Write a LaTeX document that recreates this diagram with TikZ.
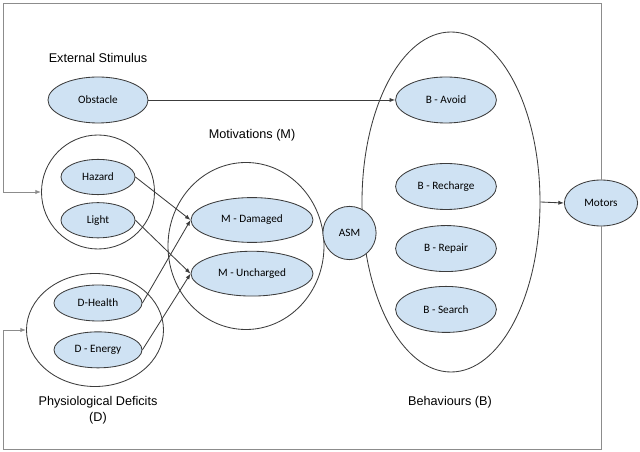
\documentclass[tikz,border=0pt]{standalone}
\usepackage{fontspec}
\setmainfont{Liberation Sans}
\newfontfamily\boxfont{Carlito}
\usetikzlibrary{arrows.meta}
\usetikzlibrary{shapes.geometric}
\usetikzlibrary{positioning}
\definecolor{boxblue}{RGB}{207,226,243}
\definecolor{edgegray}{RGB}{60,60,60}
\definecolor{loopgray}{RGB}{140,140,140}

\begin{document}
\begin{tikzpicture}[x=0.025cm,y=-0.025cm,semithick,>={Latex[length=4pt,width=3pt]}]
	\tikzstyle{unit}=[draw=edgegray, fill=boxblue, ellipse, inner sep=0pt, font=\boxfont\fontsize{8}{9.6}\selectfont]
	\tikzstyle{group}=[draw=edgegray, ellipse, inner sep=0pt]
	\tikzstyle{title}=[align=center, font=\fontsize{9}{11}\selectfont]
	\useasboundingbox (0,0) rectangle (640,452);

	% groups
	\node[group, minimum width=113*0.025cm, minimum height=114*0.025cm] (Sgrp) at (98,192) {};
	\node[group, minimum width=137*0.025cm, minimum height=113*0.025cm] (Dgrp) at (95,330) {};
	\node[group, minimum width=156*0.025cm, minimum height=167*0.025cm] (Mgrp) at (246,246) {};
	\node[group, minimum width=178*0.025cm, minimum height=340*0.025cm] (Bgrp) at (451,202) {};

	% titles
	\node[title] (tS) at (98,58) {External Stimulus};
	\node[title] (tM) at (252,135) {Motivations (M)};
	\node[title] (tD) at (98,410) {Physiological Deficits\\(D)};
	\node[title] (tB) at (450,402) {Behaviours (B)};

	% units
	\node[unit, minimum width=2.5cm, minimum height=1.15cm] (obst) at (98,100) {Obstacle};
	\node[unit, minimum width=1.85cm, minimum height=0.88cm] (haz) at (98,177) {Hazard};
	\node[unit, minimum width=1.85cm, minimum height=0.88cm] (light) [below=0.18cm of haz] {Light};
	\node[unit, minimum width=2.2cm, minimum height=0.9cm] (health) at (98,303) {D-Health};
	\node[unit, minimum width=2.2cm, minimum height=0.9cm] (energy) [below=0.25cm of health] {D - Energy};
	\node[unit, minimum width=3.05cm, minimum height=1.12cm] (mdam) at (252,220) {M - Damaged};
	\node[unit, minimum width=3.05cm, minimum height=1.12cm] (munch) [below=0.2cm of mdam] {M - Uncharged};
	\node[unit, circle, minimum size=1.33cm] (asm) at (349.5,233) {ASM};
	\node[unit, minimum width=2.52cm, minimum height=1.15cm] (avoid) at (446,100) {B - Avoid};
	\node[unit, minimum width=2.52cm, minimum height=1.15cm] (rech) at (446,186.5) {B - Recharge};
	\node[unit, minimum width=2.52cm, minimum height=1.15cm] (rep) [below=0.38cm of rech] {B - Repair};
	\node[unit, minimum width=2.52cm, minimum height=1.15cm] (srch) [below=0.35cm of rep] {B - Search};
	\node[unit, minimum width=1.83cm, minimum height=1.15cm] (motors) at (601,203) {Motors};

	\coordinate (tl) at (3,3);
	\coordinate (bl) at (3,449);

	% connections
	\draw[->, edgegray] (obst) -- (avoid);
	\foreach \a/\b in {haz/mdam,light/munch,health/mdam,energy/munch}
		\draw[->, edgegray] (\a.east) -- (\b.west);
	\draw[->, edgegray] (Bgrp.east) -- (motors.west);

	% feedback
	\draw[->, loopgray] (motors.north) |- (tl) |- (Sgrp.west);
	\draw[->, loopgray] (motors.south) |- (bl) |- (Dgrp.west);
\end{tikzpicture}
\end{document}
